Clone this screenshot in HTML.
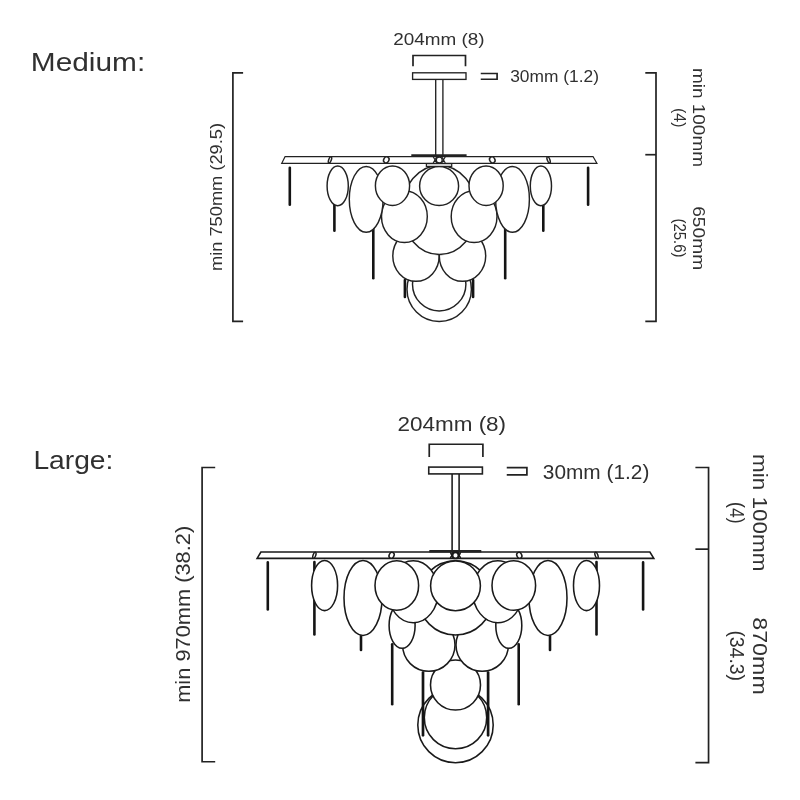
<!DOCTYPE html>
<html>
<head>
<meta charset="utf-8">
<title>Dimensions</title>
<style>
html,body{margin:0;padding:0;background:#fff;}
body{width:800px;height:800px;overflow:hidden;font-family:"Liberation Sans",sans-serif;}
svg{display:block;will-change:transform;opacity:0.999;}
text{font-family:"Liberation Sans",sans-serif;fill:#303030;}
.ln{fill:none;stroke:#222;stroke-width:1.35;}
.dim{fill:none;stroke:#222;stroke-width:1.7;}
.d{fill:#fff;stroke:#222;stroke-width:1.45;}
.rod{fill:none;stroke:#141414;stroke-width:2.6;stroke-linecap:round;}
#lrg .d{stroke-width:1.55;stroke:#1a1a1a;}
#lrg .ln{stroke:#1a1a1a;}
.thk{fill:none;stroke:#222;stroke-width:2.4;}
</style>
</head>
<body>
<svg width="800" height="800" viewBox="0 0 800 800">
<rect width="800" height="800" fill="#fff"/>

<!-- ================= MEDIUM ================= -->
<text x="30.8" y="71" font-size="26" textLength="114.4" lengthAdjust="spacingAndGlyphs">Medium:</text>

<!-- top dims -->
<text x="393.2" y="45" font-size="16.3" textLength="91.4" lengthAdjust="spacingAndGlyphs">204mm (8)</text>
<polyline class="dim" points="413,66.2 413,55.5 465.5,55.5 465.5,66.2"/>
<rect class="ln" x="412.6" y="72.8" width="53.4" height="6.6"/>
<polyline class="dim" points="480.75,73.5 497.1,73.5 497.1,79.25 480.75,79.25"/>
<text x="510.2" y="82.4" font-size="16.3" textLength="88.8" lengthAdjust="spacingAndGlyphs">30mm (1.2)</text>

<!-- left dim -->
<polyline class="dim" points="243.1,72.9 232.9,72.9 232.9,321.3 243.1,321.3"/>
<text transform="translate(222,271) rotate(-90)" font-size="16.3" textLength="148" lengthAdjust="spacingAndGlyphs">min 750mm (29.5)</text>

<!-- right dim -->
<polyline class="dim" points="645.3,72.95 656,72.95 656,321.45 645.3,321.45"/>
<line class="dim" x1="645.3" y1="154.7" x2="656" y2="154.7"/>
<text transform="translate(693,68) rotate(90)" font-size="16.3" textLength="99" lengthAdjust="spacingAndGlyphs">min 100mm</text>
<text transform="translate(674,108) rotate(90)" font-size="16.3" textLength="19.5" lengthAdjust="spacingAndGlyphs">(4)</text>
<text transform="translate(693,206.2) rotate(90)" font-size="16.3" textLength="64" lengthAdjust="spacingAndGlyphs">650mm</text>
<text transform="translate(674,218.4) rotate(90)" font-size="16.3" textLength="39.2" lengthAdjust="spacingAndGlyphs">(25.6)</text>

<!-- chandelier medium, centre x = 439.3 -->
<g id="med">
  <!-- stem -->
  <line class="ln" x1="435.7" y1="79.5" x2="435.7" y2="156.5"/>
  <line class="ln" x1="442.9" y1="79.5" x2="442.9" y2="156.5"/>
  <!-- ring -->
  <circle class="d" cx="439.2" cy="289.3" r="32.2"/>
  <circle class="d" cx="439.2" cy="284.2" r="26.7"/>
  <line class="rod" x1="404.9" y1="280" x2="404.9" y2="297"/>
  <line class="rod" x1="473.1" y1="280" x2="473.1" y2="297"/>
  <!-- lower pair -->
  <ellipse class="d" cx="416" cy="256" rx="23.2" ry="25.3"/>
  <ellipse class="d" cx="462.5" cy="256" rx="23.2" ry="25.3"/>
  <!-- centre back -->
  <ellipse class="d" cx="439.4" cy="210" rx="37.5" ry="44.5"/>
  <!-- second row -->
  <ellipse class="d" cx="404.4" cy="216.6" rx="22.9" ry="25.9"/>
  <ellipse class="d" cx="474.1" cy="216.6" rx="22.9" ry="25.9"/>
  <line class="rod" x1="334.4" y1="200" x2="334.4" y2="230.8"/>
  <line class="rod" x1="543.3" y1="200" x2="543.3" y2="230.8"/>
  <line class="rod" x1="373.3" y1="224" x2="373.3" y2="278.3"/>
  <line class="rod" x1="505.2" y1="224" x2="505.2" y2="278.3"/>
  <!-- big ellipses -->
  <ellipse class="d" cx="366.2" cy="199.3" rx="16.9" ry="32.9"/>
  <ellipse class="d" cx="512.5" cy="199.3" rx="16.9" ry="32.9"/>
  <!-- top row circles -->
  <ellipse class="d" cx="392.5" cy="185.7" rx="17.1" ry="19.7"/>
  <ellipse class="d" cx="486.1" cy="185.7" rx="17.1" ry="19.7"/>
  <circle class="d" cx="439.1" cy="186" r="19.5"/>
  <!-- small ellipses -->
  <ellipse class="d" cx="337.7" cy="185.9" rx="10.6" ry="19.8"/>
  <ellipse class="d" cx="540.9" cy="185.9" rx="10.6" ry="19.8"/>
  <!-- rods -->
  <line class="rod" x1="289.8" y1="167.7" x2="289.8" y2="204.8"/>
  <line class="rod" x1="588.1" y1="167.7" x2="588.1" y2="204.8"/>
  <!-- bar -->
  <polygon class="d" style="stroke-width:1.25" points="285.1,156.5 593,156.5 596.9,163.3 281.75,163.3"/>
  <line class="thk" x1="411.3" y1="155.5" x2="466.6" y2="155.5"/>
  <rect class="d" style="stroke-width:1.25" x="426.4" y="163.6" width="25.3" height="2.8"/>
  <!-- hub -->
  <path class="ln" style="stroke-width:1.2" d="M433.2,156.8L436.8,163M436.8,156.8L433.2,163M441.7,156.8L445.3,163M445.3,156.8L441.7,163"/>
  <circle class="d" style="stroke-width:1.3" cx="439.25" cy="160" r="2.95"/>
  <!-- small slanted ovals on bar -->
  <ellipse class="d" style="stroke-width:1.5" cx="330" cy="159.9" rx="1.3" ry="3.2" transform="rotate(20 330 159.9)"/>
  <ellipse class="d" style="stroke-width:1.5" cx="386.3" cy="159.9" rx="2.6" ry="3.1" transform="rotate(30 386.3 159.9)"/>
  <ellipse class="d" style="stroke-width:1.5" cx="492.3" cy="159.9" rx="2.6" ry="3.1" transform="rotate(-30 492.3 159.9)"/>
  <ellipse class="d" style="stroke-width:1.5" cx="548.6" cy="159.9" rx="1.3" ry="3.2" transform="rotate(-20 548.6 159.9)"/>
</g>

<!-- ================= LARGE ================= -->
<text x="33.4" y="469.4" font-size="26" textLength="80" lengthAdjust="spacingAndGlyphs">Large:</text>

<text x="397.5" y="431.1" font-size="19.5" textLength="108.6" lengthAdjust="spacingAndGlyphs">204mm (8)</text>
<polyline class="dim" points="429.25,457 429.25,444.25 482.9,444.25 482.9,457"/>
<rect class="ln" style="stroke-width:1.6" x="428.75" y="467.1" width="53.65" height="6.8"/>
<polyline class="dim" points="506.75,467.6 526.9,467.6 526.9,474.9 506.75,474.9"/>
<text x="542.8" y="478.7" font-size="19.5" textLength="106.6" lengthAdjust="spacingAndGlyphs">30mm (1.2)</text>

<polyline class="dim" points="215.2,467.5 202.1,467.5 202.1,761.75 215.2,761.75"/>
<text transform="translate(189.6,702.8) rotate(-90)" font-size="19.5" textLength="177" lengthAdjust="spacingAndGlyphs">min 970mm (38.2)</text>

<polyline class="dim" points="695.4,467.5 708.55,467.5 708.55,762.7 695.4,762.7"/>
<line class="dim" x1="695.4" y1="549.15" x2="708.55" y2="549.15"/>
<text transform="translate(753,454) rotate(90)" font-size="19.5" textLength="117.4" lengthAdjust="spacingAndGlyphs">min 100mm</text>
<text transform="translate(729.7,502) rotate(90)" font-size="19.5" textLength="21.6" lengthAdjust="spacingAndGlyphs">(4)</text>
<text transform="translate(753,617.2) rotate(90)" font-size="19.5" textLength="77.6" lengthAdjust="spacingAndGlyphs">870mm</text>
<text transform="translate(729.7,630.4) rotate(90)" font-size="19.5" textLength="50.6" lengthAdjust="spacingAndGlyphs">(34.3)</text>

<!-- chandelier large, centre x = 455.5 -->
<g id="lrg">
  <line class="ln" style="stroke-width:1.55" x1="452.1" y1="474" x2="452.1" y2="552"/>
  <line class="ln" style="stroke-width:1.55" x1="459.1" y1="474" x2="459.1" y2="552"/>
  <!-- ring -->
  <circle class="d" cx="455.5" cy="725" r="37.7"/>
  <circle class="d" cx="455.5" cy="717.6" r="31.2"/>
  <line class="rod" style="stroke-width:2.7" x1="423" y1="672.5" x2="423" y2="735.3"/>
  <line class="rod" style="stroke-width:2.7" x1="488.1" y1="672.5" x2="488.1" y2="735.3"/>
  <circle class="d" cx="455.5" cy="685" r="25"/>
  <!-- lower pair -->
  <circle class="d" cx="428.8" cy="645.1" r="26.2"/>
  <circle class="d" cx="482.2" cy="645.1" r="26.2"/>
  <!-- centre back -->
  <circle class="d" cx="455.5" cy="597.9" r="37.1"/>
  <!-- small lower ellipses -->
  <ellipse class="d" cx="402.1" cy="625.4" rx="13" ry="22.8"/>
  <ellipse class="d" cx="508.8" cy="625.4" rx="13" ry="22.8"/>
  <!-- second row -->
  <ellipse class="d" cx="413.2" cy="591.7" rx="25" ry="31"/>
  <ellipse class="d" cx="497.8" cy="591.7" rx="25" ry="31"/>
  <line class="rod" x1="361" y1="628" x2="361" y2="650"/>
  <line class="rod" x1="550" y1="628" x2="550" y2="650"/>
  <!-- big ellipses -->
  <ellipse class="d" cx="363" cy="597.9" rx="19" ry="37.5"/>
  <ellipse class="d" cx="548" cy="597.9" rx="19" ry="37.5"/>
  <!-- top row circles -->
  <ellipse class="d" cx="396.8" cy="585.5" rx="21.8" ry="24.8"/>
  <ellipse class="d" cx="513.8" cy="585.5" rx="21.8" ry="24.8"/>
  <circle class="d" cx="455.5" cy="585.8" r="24.9"/>
  <!-- small ellipses -->
  <line class="rod" x1="314.4" y1="562" x2="314.4" y2="634.4"/>
  <line class="rod" x1="596.5" y1="562" x2="596.5" y2="634.4"/>
  <ellipse class="d" cx="324.6" cy="585.5" rx="13" ry="25.1"/>
  <ellipse class="d" cx="586.5" cy="585.5" rx="13" ry="25.1"/>
  <!-- rods -->
  <line class="rod" x1="267.8" y1="562.4" x2="267.8" y2="609.4"/>
  <line class="rod" x1="643.1" y1="562.4" x2="643.1" y2="609.4"/>
  <line class="rod" x1="392.2" y1="644.2" x2="392.2" y2="704.2"/>
  <line class="rod" x1="518.7" y1="644.2" x2="518.7" y2="704.2"/>
  <!-- bar -->
  <polygon class="d" style="stroke-width:1.6" points="260.9,552 649.9,552 653.8,558.4 257.1,558.4"/>
  <line class="thk" x1="429.3" y1="551.2" x2="481.3" y2="551.2"/>
  <path class="ln" style="stroke-width:1.3" d="M450.3,552.3L452.8,558.2M452.8,552.3L450.3,558.2M458.2,552.3L460.7,558.2M460.7,552.3L458.2,558.2"/>
  <circle class="d" style="stroke-width:1.9" cx="455.5" cy="555.4" r="3"/>
  <ellipse class="d" style="stroke-width:1.5" cx="314.4" cy="555.3" rx="1.3" ry="3.1" transform="rotate(20 314.4 555.3)"/>
  <ellipse class="d" style="stroke-width:1.5" cx="391.6" cy="555.3" rx="2.4" ry="3" transform="rotate(30 391.6 555.3)"/>
  <ellipse class="d" style="stroke-width:1.5" cx="519.3" cy="555.3" rx="2.4" ry="3" transform="rotate(-30 519.3 555.3)"/>
  <ellipse class="d" style="stroke-width:1.5" cx="596.5" cy="555.3" rx="1.3" ry="3.1" transform="rotate(-20 596.5 555.3)"/>
</g>
</svg>
</body>
</html>
